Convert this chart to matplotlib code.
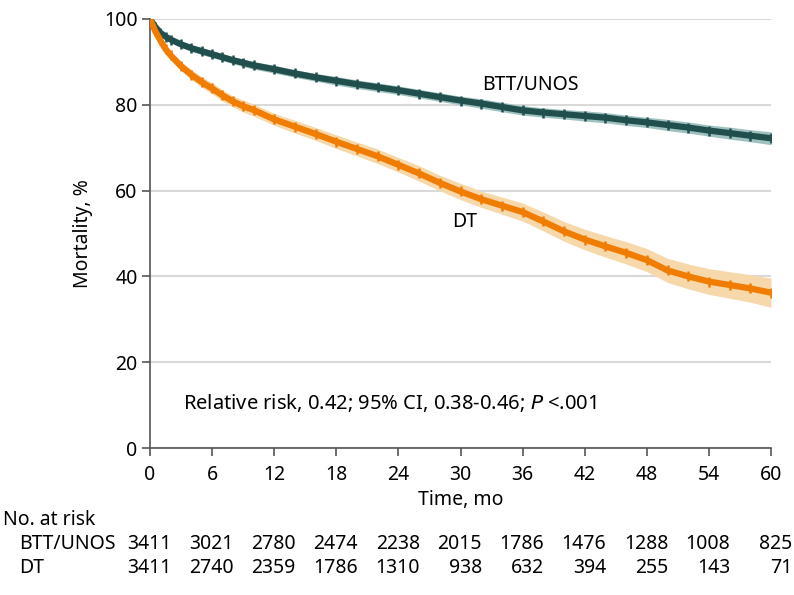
import matplotlib
matplotlib.use('Agg')
import matplotlib.pyplot as plt
import matplotlib.transforms as mtransforms
import numpy as np

plt.rcParams['font.family'] = ['Noto Sans', 'DejaVu Sans']

# Kaplan-Meier style curves (months, % alive)
months = [0, 0.5, 1, 1.5, 2, 3, 4, 5, 6, 7, 8, 9, 10, 12, 14, 16, 18, 20, 22, 24,
          26, 28, 30, 32, 34, 36, 38, 40, 42, 44, 46, 48, 50, 52, 54, 56, 58, 60]
btt = [100, 98.2, 96.8, 95.9, 95.2, 94.1, 93.2, 92.5, 91.8, 91.1, 90.4, 89.8, 89.2,
       88.3, 87.3, 86.4, 85.6, 84.8, 84.1, 83.4, 82.6, 81.8, 81.0, 80.3, 79.5, 78.7,
       78.2, 77.8, 77.4, 77.0, 76.4, 75.9, 75.3, 74.7, 74.0, 73.4, 72.8, 72.2]
dt = [100, 97.2, 95.0, 93.0, 91.5, 89.0, 87.0, 85.3, 83.8, 82.2, 80.8, 79.7, 78.8,
      76.6, 74.9, 73.2, 71.4, 69.7, 68.0, 66.0, 64.0, 61.8, 59.8, 58.0, 56.5, 55.0,
      52.8, 50.5, 48.6, 47.0, 45.5, 43.8, 41.4, 40.0, 38.8, 38.0, 37.2, 36.2]
# half width of 95% CI band
btt_ci = [0, 0.4, 0.5, 0.6, 0.6, 0.7, 0.7, 0.8, 0.8, 0.8, 0.8, 0.9, 0.9, 0.9, 0.9,
          0.9, 1.0, 1.0, 1.0, 1.0, 1.0, 1.0, 1.0, 1.1, 1.1, 1.1, 1.1, 1.1, 1.2, 1.2,
          1.2, 1.2, 1.3, 1.3, 1.3, 1.4, 1.4, 1.5]
dt_ci = [0, 0.4, 0.6, 0.7, 0.8, 0.9, 1.0, 1.0, 1.1, 1.1, 1.1, 1.2, 1.2, 1.2, 1.3,
         1.3, 1.4, 1.4, 1.5, 1.5, 1.6, 1.6, 1.7, 1.7, 1.8, 1.9, 2.0, 2.1, 2.2, 2.3,
         2.4, 2.5, 2.6, 2.7, 2.8, 2.9, 3.0, 3.2]

risk_times = [0, 6, 12, 18, 24, 30, 36, 42, 48, 54, 60]
risk_btt = [3411, 3021, 2780, 2474, 2238, 2015, 1786, 1476, 1288, 1008, 825]
risk_dt = [3411, 2740, 2359, 1786, 1310, 938, 632, 394, 255, 143, 71]

c_btt = '#214f4e'
c_btt_ci = '#9fc1bf'
c_dt = '#f07c00'
c_dt_ci = '#f6d8ab'
fs = 14

fig = plt.figure(figsize=(7.94, 5.95), dpi=100)
ax = fig.add_axes([150/794, 1-448/595, 621/794, 429/595])

t = np.array(months)
for vals, ci, col, cicol, pad in [(btt, btt_ci, c_btt, c_btt_ci, 0.0),
                                  (dt, dt_ci, c_dt, c_dt_ci, 0.2)]:
    v = np.array(vals)
    e = np.array(ci)
    ax.fill_between(t, v - e - pad, v + e + pad, color=cicol, lw=0, zorder=2)
    ax.plot(t, v, color=col, lw=4.5, zorder=3, solid_capstyle='butt')
    ax.plot(t, v, ls='none', marker='|', ms=7.5, mew=1.8, color=col, zorder=3)

ax.set_xlim(0, 60)
ax.set_ylim(0, 100)
ax.set_xticks(risk_times)
ax.set_yticks([0, 20, 40, 60, 80, 100])
ax.grid(axis='y', color='#d9d9d9', lw=1.5, zorder=0)
ax.set_axisbelow(True)
for s in ['top', 'right']:
    ax.spines[s].set_visible(False)
for s in ['left', 'bottom']:
    ax.spines[s].set_color('#555555')
    ax.spines[s].set_linewidth(1.2)
ax.tick_params(axis='both', direction='out', length=6, width=1.2, color='#555555',
               labelsize=fs, pad=3)
ax.tick_params(axis='x', pad=6)
ax.set_ylabel('Mortality, %', fontsize=fs, labelpad=8)
ax.set_xlabel('Time, mo', fontsize=fs, labelpad=4)

ax.text(32.1, 84.6, 'BTT/UNOS', fontsize=fs, va='center', ha='left')
ax.text(29.2, 52.7, 'DT', fontsize=fs, va='center', ha='left')
ax.text(3.2, 10.5, 'Relative risk, 0.42; 95% CI, 0.38-0.46; $\\mathit{P}$ <.001',
        fontsize=fs + 0.5, va='center', ha='left')

# number at risk table
fig.text(3/794, 1-520/595, 'No. at risk', fontsize=fs, va='center', ha='left')
fig.text(19/794, 1-544/595, 'BTT/UNOS', fontsize=fs, va='center', ha='left')
fig.text(19/794, 1-568/595, 'DT', fontsize=fs, va='center', ha='left')
blend = mtransforms.blended_transform_factory(ax.transData, fig.transFigure)
shift = mtransforms.offset_copy(blend, fig=fig, x=21.5, y=0, units='dots')
for x, a, b in zip(risk_times, risk_btt, risk_dt):
    ax.text(x, 1-544/595, str(a), transform=shift, fontsize=fs, va='center', ha='right')
    ax.text(x, 1-568/595, str(b), transform=shift, fontsize=fs, va='center', ha='right')

fig.savefig('out.png', dpi=100)
